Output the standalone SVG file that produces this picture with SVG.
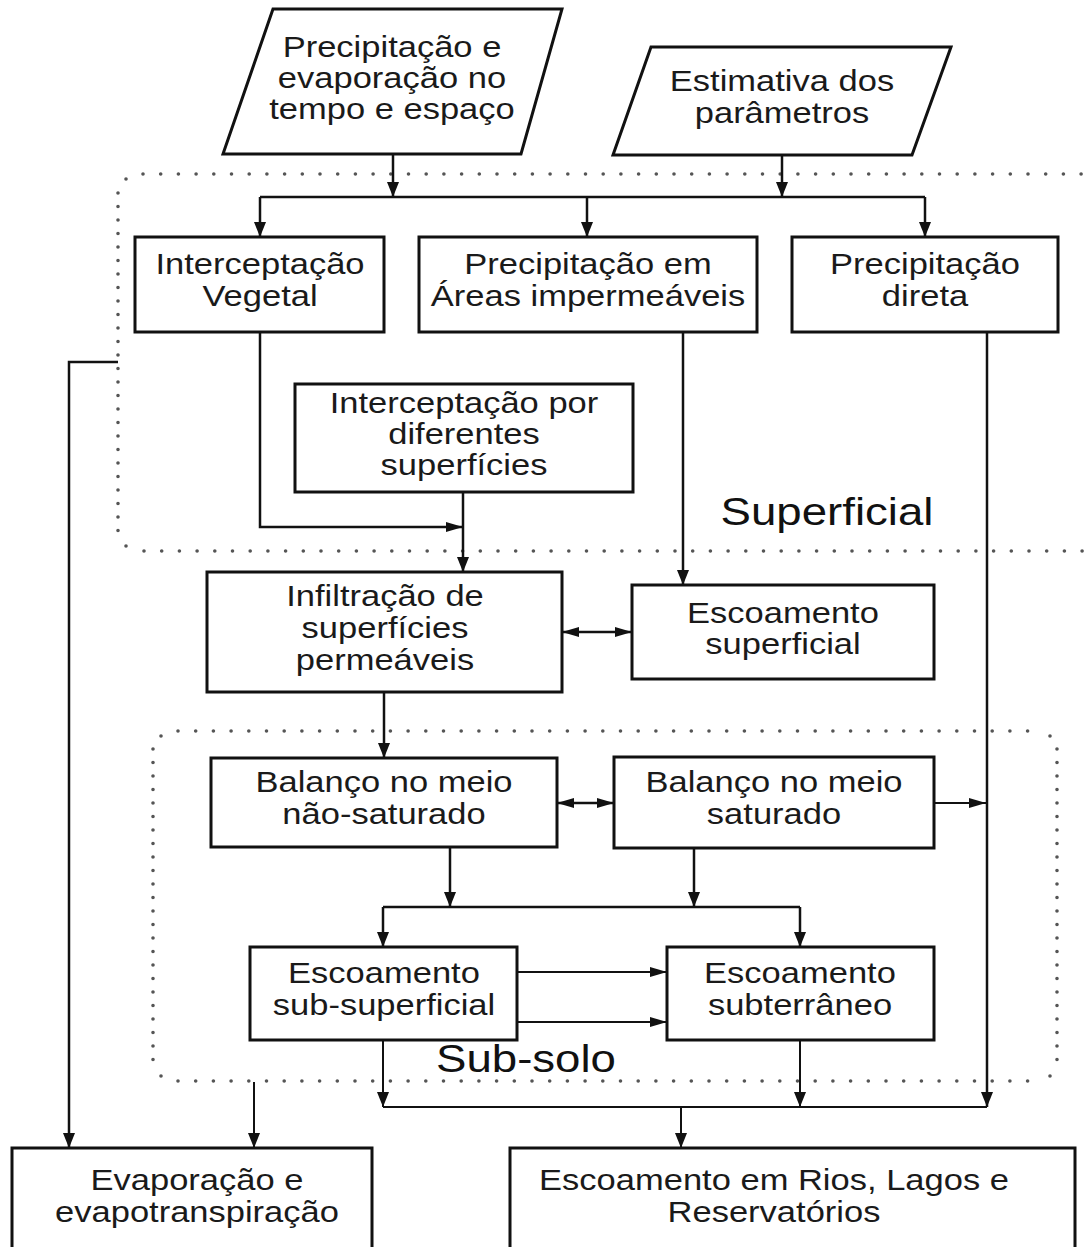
<svg xmlns="http://www.w3.org/2000/svg" width="1087" height="1247" viewBox="0 0 1087 1247">
<style>
.box{fill:#fff;stroke:#111;stroke-width:3}
.t{font-family:"Liberation Sans",Arial,sans-serif;font-size:29.5px;fill:#1a1a1a;text-anchor:middle}
.lbl{font-family:"Liberation Sans",Arial,sans-serif;font-size:38px;fill:#111;text-anchor:middle}
.c{fill:none;stroke:#111;stroke-width:2.5}
.c2{fill:none;stroke:#111;stroke-width:2}
.dh{fill:none;stroke:#555;stroke-width:3.6;stroke-linecap:round;stroke-dasharray:0 17.7}
.dv{fill:none;stroke:#555;stroke-width:3.6;stroke-linecap:round;stroke-dasharray:0 13.5}
.dot{fill:#555}
</style>
<defs>
<marker id="av" markerUnits="userSpaceOnUse" markerWidth="15" markerHeight="12" viewBox="0 0 15 12" refX="15" refY="6" orient="auto-start-reverse">
<path d="M0,0 L15,6 L0,12 z" fill="#111"/>
</marker>
<marker id="ah" markerUnits="userSpaceOnUse" markerWidth="17" markerHeight="10" viewBox="0 0 17 10" refX="17" refY="5" orient="auto-start-reverse">
<path d="M0,0 L17,5 L0,10 z" fill="#111"/>
</marker>
</defs>

<g id="zone-superficial">
<path class="dh" d="M143,174 H1087"/>
<path class="dh" d="M144,551 H1087"/>
<path class="dv" d="M118,193 V535"/>
<circle class="dot" cx="126" cy="179" r="1.8"/>
<circle class="dot" cx="126" cy="546" r="1.8"/>
<text class="lbl" transform="translate(827 0) scale(1.2 1)" x="0" y="525">Superficial</text>
</g>

<g id="zone-subsolo">
<path class="dh" d="M178,731 H1045"/>
<path class="dh" d="M178,1081 H1045"/>
<path class="dv" d="M153,749 V1065"/>
<path class="dv" d="M1057,749 V1065"/>
<circle class="dot" cx="161" cy="736" r="1.8"/>
<circle class="dot" cx="161" cy="1076" r="1.8"/>
<circle class="dot" cx="1050" cy="736" r="1.8"/>
<circle class="dot" cx="1050" cy="1076" r="1.8"/>
<text class="lbl" transform="translate(526 0) scale(1.2 1)" x="0" y="1072">Sub-solo</text>
</g>

<g id="connectors">
<path class="c" d="M393,154 V197" marker-end="url(#av)"/>
<path class="c" d="M782,155 V197" marker-end="url(#av)"/>
<path class="c" d="M260,197 H925"/>
<path class="c" d="M260,197 V237" marker-end="url(#av)"/>
<path class="c" d="M587,197 V237" marker-end="url(#av)"/>
<path class="c" d="M925,197 V237" marker-end="url(#av)"/>
<path class="c" d="M260,332 V527 H463" marker-end="url(#ah)"/>
<path class="c" d="M463,492 V572" marker-end="url(#av)"/>
<path class="c" d="M683,332 V585" marker-end="url(#av)"/>
<path class="c" d="M987,332 V1107" marker-end="url(#av)"/>
<path class="c" d="M562,632 H632" marker-start="url(#ah)" marker-end="url(#ah)"/>
<path class="c" d="M384,692 V758" marker-end="url(#av)"/>
<path class="c" d="M557,803 H614" marker-start="url(#ah)" marker-end="url(#ah)"/>
<path class="c2" d="M934,803 H986" marker-end="url(#ah)"/>
<path class="c" d="M450,847 V907" marker-end="url(#av)"/>
<path class="c" d="M694,848 V907" marker-end="url(#av)"/>
<path class="c" d="M383,907 H800"/>
<path class="c" d="M383,907 V947" marker-end="url(#av)"/>
<path class="c" d="M800,907 V947" marker-end="url(#av)"/>
<path class="c2" d="M517,972 H667" marker-end="url(#ah)"/>
<path class="c2" d="M517,1022 H667" marker-end="url(#ah)"/>
<path class="c2" d="M383,1040 V1107" marker-end="url(#av)"/>
<path class="c2" d="M800,1040 V1107" marker-end="url(#av)"/>
<path class="c2" d="M383,1107 H987"/>
<path class="c2" d="M681,1107 V1148" marker-end="url(#av)"/>
<path class="c" d="M118,362 H69 V1148" marker-end="url(#av)"/>
<path class="c2" d="M254,1082 V1148" marker-end="url(#av)"/>
</g>

<g id="n-precip-input">
<path class="box" d="M273,9 H562 L521,154 H223 Z"/>
<text class="t" transform="translate(392 0) scale(1.17 1)"><tspan x="0" y="57">Precipitação e</tspan><tspan x="0" y="88">evaporação no</tspan><tspan x="0" y="119">tempo e espaço</tspan></text>
</g>

<g id="n-estimativa">
<path class="box" d="M651,47 H951 L912,155 H613 Z"/>
<text class="t" transform="translate(782 0) scale(1.17 1)"><tspan x="0" y="91">Estimativa dos</tspan><tspan x="0" y="123">parâmetros</tspan></text>
</g>

<g id="n-interceptacao-vegetal">
<rect class="box" x="135" y="237" width="249" height="95"/>
<text class="t" transform="translate(260 0) scale(1.17 1)"><tspan x="0" y="274">Interceptação</tspan><tspan x="0" y="306">Vegetal</tspan></text>
</g>

<g id="n-precip-impermeaveis">
<rect class="box" x="419" y="237" width="338" height="95"/>
<text class="t" transform="translate(588 0) scale(1.17 1)"><tspan x="0" y="274">Precipitação em</tspan><tspan x="0" y="306">Áreas impermeáveis</tspan></text>
</g>

<g id="n-precip-direta">
<rect class="box" x="792" y="237" width="266" height="95"/>
<text class="t" transform="translate(925 0) scale(1.17 1)"><tspan x="0" y="274">Precipitação</tspan><tspan x="0" y="306">direta</tspan></text>
</g>

<g id="n-interceptacao-superficies">
<rect class="box" x="295" y="384" width="338" height="108"/>
<text class="t" transform="translate(464 0) scale(1.17 1)"><tspan x="0" y="413">Interceptação por</tspan><tspan x="0" y="444">diferentes</tspan><tspan x="0" y="475">superfícies</tspan></text>
</g>

<g id="n-infiltracao">
<rect class="box" x="207" y="572" width="355" height="120"/>
<text class="t" transform="translate(385 0) scale(1.17 1)"><tspan x="0" y="606">Infiltração de</tspan><tspan x="0" y="638">superfícies</tspan><tspan x="0" y="670">permeáveis</tspan></text>
</g>

<g id="n-escoamento-superficial">
<rect class="box" x="632" y="585" width="302" height="94"/>
<text class="t" transform="translate(783 0) scale(1.17 1)"><tspan x="0" y="623">Escoamento</tspan><tspan x="0" y="654">superficial</tspan></text>
</g>

<g id="n-balanco-nao-saturado">
<rect class="box" x="211" y="758" width="346" height="89"/>
<text class="t" transform="translate(384 0) scale(1.17 1)"><tspan x="0" y="792">Balanço no meio</tspan><tspan x="0" y="824">não-saturado</tspan></text>
</g>

<g id="n-balanco-saturado">
<rect class="box" x="614" y="757" width="320" height="91"/>
<text class="t" transform="translate(774 0) scale(1.17 1)"><tspan x="0" y="792">Balanço no meio</tspan><tspan x="0" y="824">saturado</tspan></text>
</g>

<g id="n-escoamento-subsuperficial">
<rect class="box" x="250" y="947" width="267" height="93"/>
<text class="t" transform="translate(384 0) scale(1.17 1)"><tspan x="0" y="983">Escoamento</tspan><tspan x="0" y="1015">sub-superficial</tspan></text>
</g>

<g id="n-escoamento-subterraneo">
<rect class="box" x="667" y="947" width="267" height="93"/>
<text class="t" transform="translate(800 0) scale(1.17 1)"><tspan x="0" y="983">Escoamento</tspan><tspan x="0" y="1015">subterrâneo</tspan></text>
</g>

<g id="n-evaporacao">
<rect class="box" x="12" y="1148" width="360" height="110"/>
<text class="t" transform="translate(197 0) scale(1.17 1)"><tspan x="0" y="1190">Evaporação e</tspan><tspan x="0" y="1222">evapotranspiração</tspan></text>
</g>

<g id="n-escoamento-rios">
<rect class="box" x="510" y="1148" width="565" height="110"/>
<text class="t" transform="translate(774 0) scale(1.17 1)"><tspan x="0" y="1190">Escoamento em Rios, Lagos e</tspan><tspan x="0" y="1222">Reservatórios</tspan></text>
</g>
</svg>
